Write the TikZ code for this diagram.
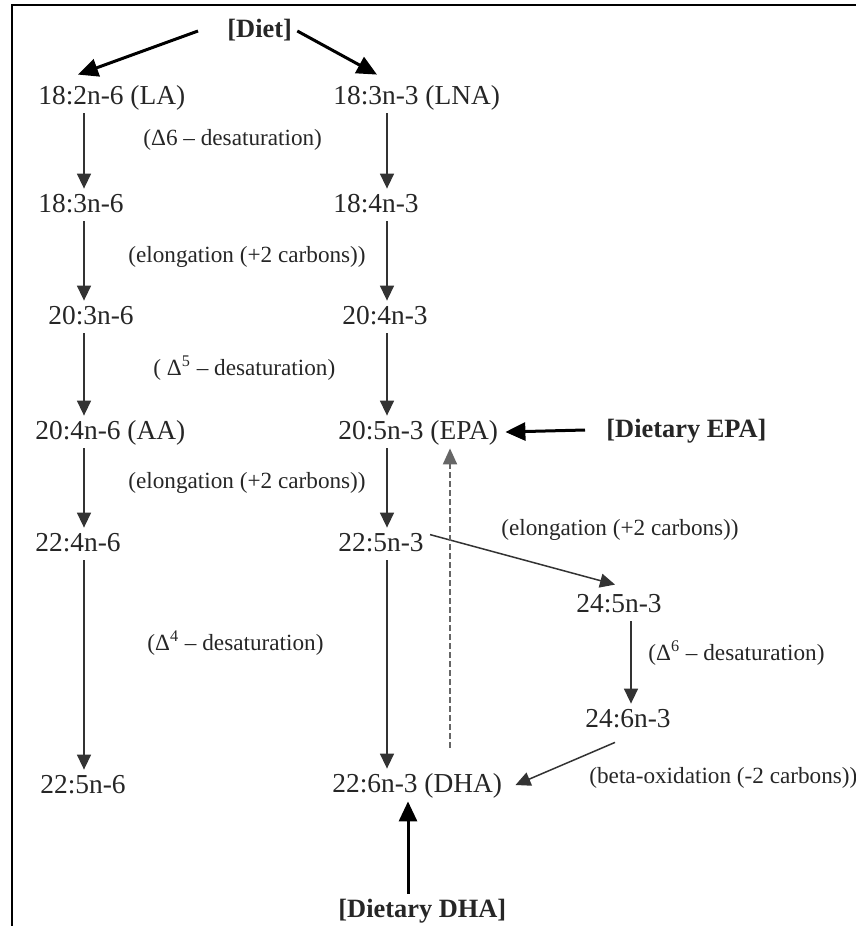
\documentclass[tikz,border=0pt]{standalone}
\usepackage{fontspec}
\setmainfont{Liberation Serif}
\usetikzlibrary{arrows.meta,calc}
\def\enz#1#2#3{\node[enz] (#1) at (#2) {#3}}
\tikzstyle{fa}=[anchor=base west,inner xsep=0pt,inner ysep=4.5pt,text height=0.7em,text depth=0pt,font=\fontsize{13.7}{16}\selectfont,text=black!85]
\tikzstyle{src}=[fa,font=\bfseries\fontsize{13.2}{16}\selectfont]
\tikzstyle{enz}=[anchor=west,inner sep=0pt,text height=0.7em,text depth=0.2em,font=\fontsize{11.6}{14}\selectfont,text=black!85]
\tikzstyle{conv}=[draw=black!80,line width=0.75pt,-{Triangle[length=7.5pt,width=7pt]}]
\tikzstyle{feed}=[draw=black,line width=1.5pt,-{Triangle[length=10pt,width=9pt]}]
\tikzstyle{retro}=[draw=black!60,line width=1pt,dash pattern=on 3pt off 1.5pt,-{Triangle[length=8pt,width=7pt]}]

\begin{document}
\begin{tikzpicture}[x=0.5pt,y=-0.5pt]
    \useasboundingbox (0,0) rectangle (856,926);
    \draw[line width=1pt] (856,5) -- (12,5) -- (12,926);
    \coordinate (c1) at (84,0);
    \coordinate (c2) at (387,0);
    \coordinate (c3) at (631,0);
    \coordinate (c4) at (408,0);
    \coordinate (c5) at (450,0);
    % sources
    \node[src] (diet) at (227,38) {[Diet]};
    \node[src] (depa) at (606,437) {[Dietary EPA]};
    \node[src] (ddha) at (338,917) {[Dietary DHA]};
    % n-6 series
    \node[fa] (la) at (38,104) {18:2n-6 (LA)};
    \node[fa] (gla) at (38,212) {18:3n-6};
    \node[fa] (dgla) at (48,324) {20:3n-6};
    \node[fa] (aa) at (35,439) {20:4n-6 (AA)};
    \node[fa] (dta) at (35,551) {22:4n-6};
    \node[fa] (dpasix) at (40,793) {22:5n-6};
    % n-3 series
    \node[fa] (lna) at (333,104) {18:3n-3 (LNA)};
    \node[fa] (sda) at (333,212) {18:4n-3};
    \node[fa] (eta) at (342,324) {20:4n-3};
    \node[fa] (epa) at (338,439) {20:5n-3 (EPA)};
    \node[fa] (dpa) at (338,551) {22:5n-3};
    \node[fa] (dha) at (332,792) {22:6n-3 (DHA)};
    \node[fa] (tpa) at (576,612) {24:5n-3};
    \node[fa] (tha) at (585,727) {24:6n-3};
    % enzymes
    \enz{dsix}{143,140}{(Δ6 – desaturation)};
    \enz{elone}{128,257}{(elongation (+2 carbons))};
    \enz{dfive}{153,370}{( Δ\textsuperscript{5} – desaturation)};
    \enz{eltwo}{128,483}{(elongation (+2 carbons))};
    \enz{dfour}{147,645}{(Δ\textsuperscript{4} – desaturation)};
    \enz{elthree}{501,530}{(elongation (+2 carbons))};
    \enz{dsixb}{648,655}{(Δ\textsuperscript{6} – desaturation)};
    \enz{beta}{589,778}{(beta-oxidation (-2 carbons))};
    % arrows
    \draw[feed] ([xshift=-14.5pt]diet.west) -- ([xshift=20pt,yshift=3pt]la.north west);
    \draw[feed] ([xshift=2.5pt]diet.east) -- ([xshift=22pt,yshift=3pt]lna.north west);
    \draw[conv] (la.south -| c1) -- (gla.north -| c1);
    \draw[conv] (gla.south -| c1) -- (dgla.north -| c1);
    \draw[conv] (dgla.south -| c1) -- (aa.north -| c1);
    \draw[conv] (aa.south -| c1) -- (dta.north -| c1);
    \draw[conv] (dta.south -| c1) -- (dpasix.north -| c1);
    \draw[conv] (lna.south -| c2) -- (sda.north -| c2);
    \draw[conv] (sda.south -| c2) -- (eta.north -| c2);
    \draw[conv] (eta.south -| c2) -- (epa.north -| c2);
    \draw[conv] (epa.south -| c2) -- (dpa.north -| c2);
    \draw[conv] (dpa.south -| c2) -- (dha.north -| c2);
    \draw[conv] ([xshift=3pt,yshift=-3.5pt]dpa.north east) -- ([xshift=-2pt,yshift=2pt]tpa.north);
    \draw[conv] (tpa.south -| c3) -- (tha.north -| c3);
    \draw[conv] ([xshift=-6.5pt,yshift=-3pt]tha.south) -- ([xshift=6.5pt]dha.east);
    \draw[feed] ([xshift=-10.5pt]depa.west) -- ([xshift=3.5pt]epa.east);
    \draw[feed] (ddha.north -| c4) -- (dha.south -| c4);
    \draw[retro] ($(dha.north -| c5)+(0,-21)$) -- (epa.south -| c5);
\end{tikzpicture}
\end{document}
